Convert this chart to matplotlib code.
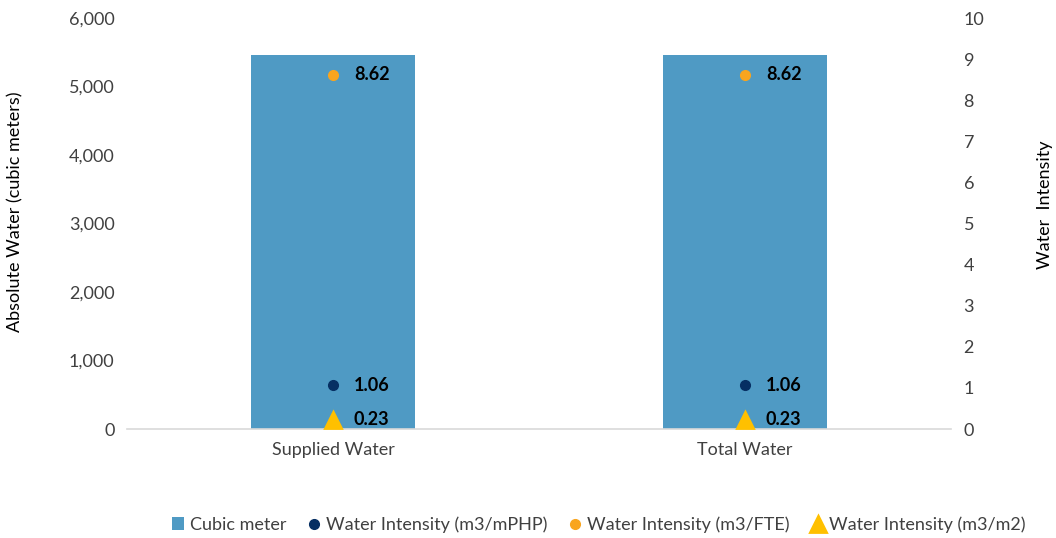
import matplotlib.pyplot as plt
from matplotlib.ticker import FuncFormatter

plt.rcParams['font.family'] = ['Lato', 'DejaVu Sans']

# Data
categories = ["Supplied Water", "Total Water"]
cubic_meter = [5460, 5460]
intensity_mphp = [1.06, 1.06]
intensity_fte = [8.62, 8.62]
intensity_m2 = [0.23, 0.23]

bar_color = '#4F9AC4'
c_mphp = '#062F63'
c_fte = '#F9A51E'
c_m2 = '#FFC000'
text_color = '#404040'

fig = plt.figure(figsize=(10.56, 5.38), dpi=100)
ax = fig.add_axes([0.1203, 0.2026, 0.7803, 0.7639])
x = list(range(len(categories)))
bars = ax.bar(x, cubic_meter, width=0.4, color=bar_color, label="Cubic meter", zorder=1)
ax.set_xlim(-0.5, 1.5)
ax.set_ylim(0, 6000)
ax.set_yticks(range(0, 6001, 1000))
ax.yaxis.set_major_formatter(FuncFormatter(lambda v, p: f"{int(v):,}"))
ax.set_xticks(x)
ax.set_xticklabels(categories)
for s in ['top', 'left', 'right']:
    ax.spines[s].set_visible(False)
ax.spines['bottom'].set_color('#D9D9D9')
ax.spines['bottom'].set_linewidth(1.2)
ax.tick_params(axis='both', length=0, labelsize=13, colors=text_color, pad=9)

ax2 = ax.twinx()
ax2.set_ylim(0, 10)
ax2.set_yticks(range(0, 11))
for s in ax2.spines.values():
    s.set_visible(False)
ax2.tick_params(axis='y', length=0, labelsize=13, colors=text_color, pad=9)

# axis titles placed at fixed figure positions
fig.text(15 / 1056, 1 - 212 / 538, "Absolute Water (cubic meters)", rotation=90,
         ha='center', va='center', fontsize=13, color='black')
fig.text(1045 / 1056, 1 - 205 / 538, "Water  Intensity", rotation=90,
         ha='center', va='center', fontsize=13, color='black')

ax2.plot(x, intensity_mphp, 'o', color=c_mphp, markersize=7, label="Water Intensity (m3/mPHP)", zorder=3)
ax2.plot(x, intensity_fte, 'o', color=c_fte, markersize=7, label="Water Intensity (m3/FTE)", zorder=3)
ax2.plot(x, intensity_m2, '^', color=c_m2, markersize=11, markeredgewidth=2,
         markeredgecolor=c_m2, label="Water Intensity (m3/m2)", zorder=3)

for series in [intensity_mphp, intensity_fte, intensity_m2]:
    for xi, v in zip(x, series):
        ax2.annotate(f"{v:.2f}", (xi, v), xytext=(15, 0), textcoords='offset points',
                     va='center', ha='left', fontsize=13, fontweight='bold', color='black')

h1, l1 = ax.get_legend_handles_labels()
h2, l2 = ax2.get_legend_handles_labels()
fig.legend(h1 + h2, l1 + l2, loc='center', bbox_to_anchor=(0.567, 0.025), ncol=4,
           frameon=False, fontsize=13, handlelength=0.7, handletextpad=0.3,
           columnspacing=1.2, labelcolor=text_color)

fig.savefig("out.png", dpi=100)
